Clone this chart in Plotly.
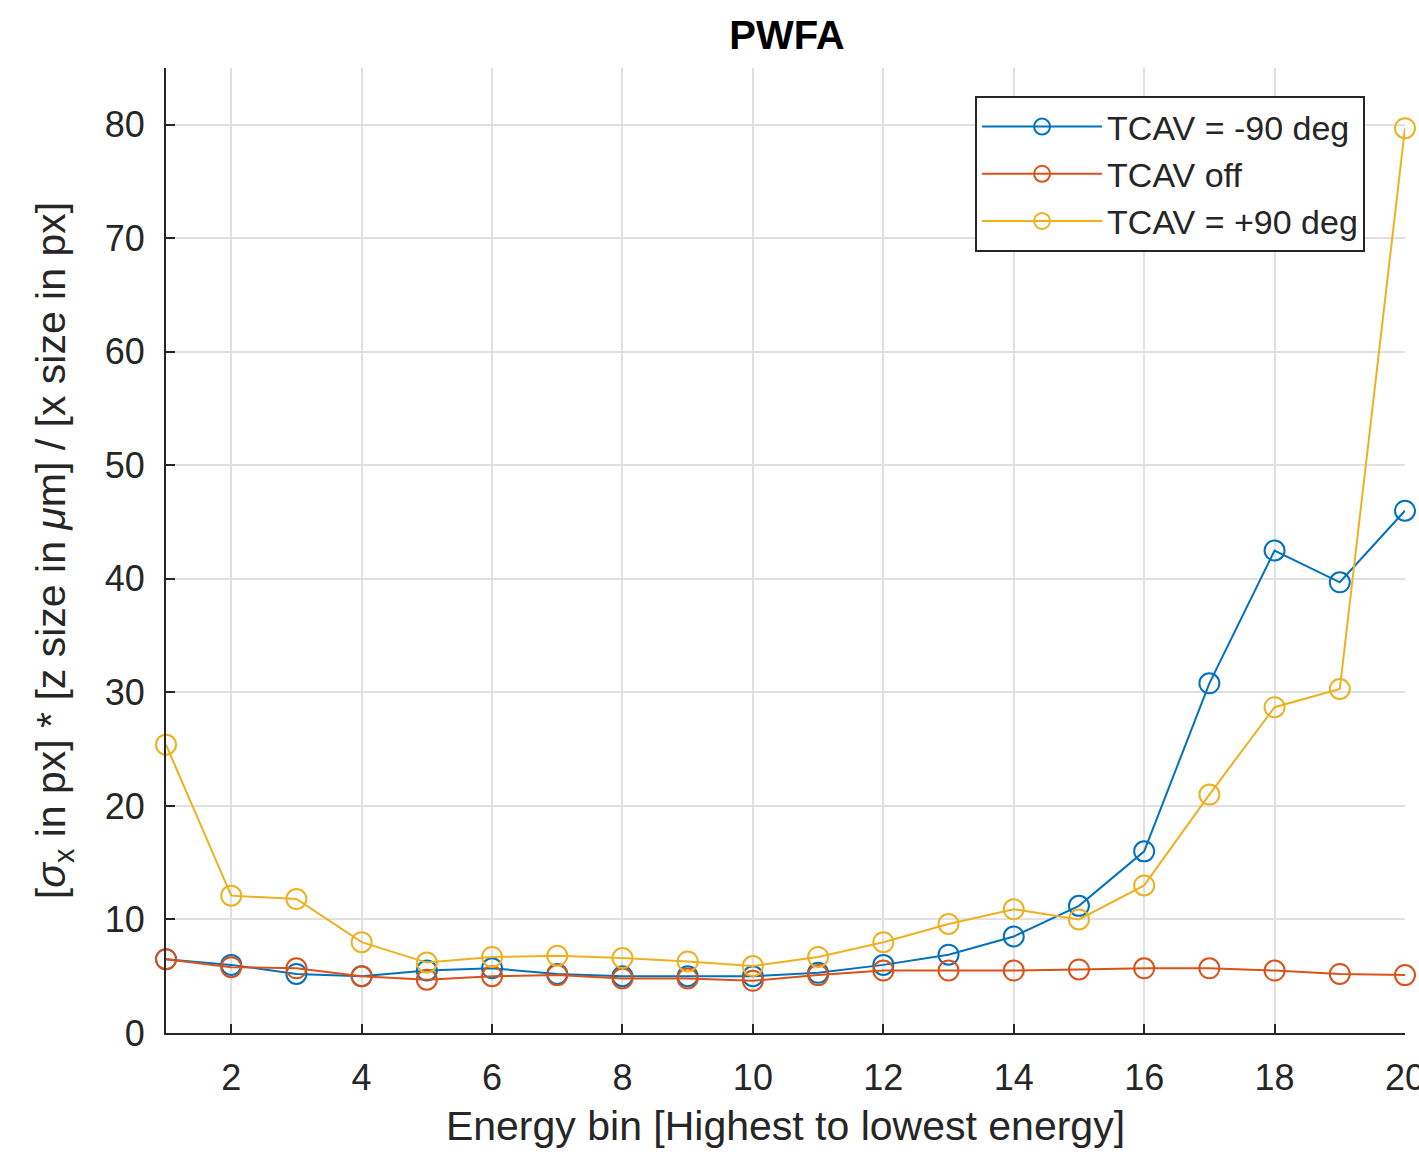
import plotly.graph_objects as go

# Energy bins (highest to lowest energy)
energy_bin = list(range(1, 21))

# Normalised bunch length per energy bin for each TCAV setting
tcav_minus90 = [6.5, 6.0, 5.2, 5.0, 5.5, 5.7, 5.2, 5.0, 5.0, 5.0,
                5.3, 6.0, 6.9, 8.5, 11.2, 16.0, 30.8, 42.5, 39.7, 46.0]
tcav_off = [6.5, 5.8, 5.7, 5.0, 4.7, 5.0, 5.1, 4.8, 4.8, 4.6,
            5.1, 5.5, 5.5, 5.5, 5.6, 5.7, 5.7, 5.5, 5.2, 5.1]
tcav_plus90 = [25.4, 12.1, 11.8, 8.0, 6.2, 6.7, 6.8, 6.6, 6.3, 5.9,
               6.7, 8.0, 9.6, 10.9, 10.0, 13.0, 21.0, 28.7, 30.3, 79.7]

series = [
    ("TCAV = -90 deg", tcav_minus90, "#0072BD"),
    ("TCAV off", tcav_off, "#D95319"),
    ("TCAV = +90 deg", tcav_plus90, "#EDB120"),
]

x_ticks = list(range(2, 21, 2))
y_ticks = list(range(0, 81, 10))

FONT = "Liberation Sans, Arial, Helvetica, sans-serif"
TEXT = "#262626"

fig = go.Figure()
for name, vals, color in series:
    fig.add_trace(go.Scatter(
        x=energy_bin, y=vals, name=name, mode="lines+markers",
        line=dict(color=color, width=2),
        marker=dict(symbol="circle-open", size=20, color=color,
                    line=dict(color=color, width=2)),
        cliponaxis=False,
    ))

fig.update_layout(
    width=1419, height=1152,
    margin=dict(l=166, r=14, t=68, b=119),
    paper_bgcolor="white", plot_bgcolor="white",
    font=dict(family=FONT, size=36, color=TEXT),
    title=dict(text="<b>PWFA</b>", x=0.5546, xanchor="center",
               y=0.97, yanchor="middle",
               font=dict(family=FONT, size=40, color="#000000")),
    legend=dict(
        x=0.653, y=0.971, xanchor="left", yanchor="top",
        bgcolor="white", bordercolor="#262626", borderwidth=2,
        font=dict(family=FONT, size=34, color=TEXT),
        itemwidth=120, tracegroupgap=0,
    ),
    showlegend=True,
)

fig.update_xaxes(
    range=[1, 20], tickvals=x_ticks, ticktext=[str(v) for v in x_ticks],
    showgrid=True, gridcolor="#e0e0e0", gridwidth=1.5,
    showline=True, linecolor=TEXT, linewidth=2, mirror=False,
    ticks="inside", ticklen=9, tickwidth=2, tickcolor=TEXT,
    tickfont=dict(family=FONT, size=36, color=TEXT),
    ticklabelstandoff=12, ticklabeloverflow="allow",
    automargin=False, zeroline=False,
    title=dict(text="Energy bin [Highest to lowest energy]",
               font=dict(family=FONT, size=41, color=TEXT), standoff=14),
)
fig.update_yaxes(
    range=[0, 85], tickvals=y_ticks, ticktext=[str(v) for v in y_ticks],
    showgrid=True, gridcolor="#e0e0e0", gridwidth=1.5,
    showline=True, linecolor=TEXT, linewidth=2, mirror=False,
    ticks="inside", ticklen=9, tickwidth=2, tickcolor=TEXT,
    tickfont=dict(family=FONT, size=36, color=TEXT),
    ticklabelstandoff=12,
    automargin=False, zeroline=False,
    title=dict(text="[<i>σ</i><sub>x</sub> in px] * [z size in <i>μ</i>m] / [x size in px]",
               font=dict(family=FONT, size=41, color=TEXT), standoff=26),
)

fig.write_html("out.html")
